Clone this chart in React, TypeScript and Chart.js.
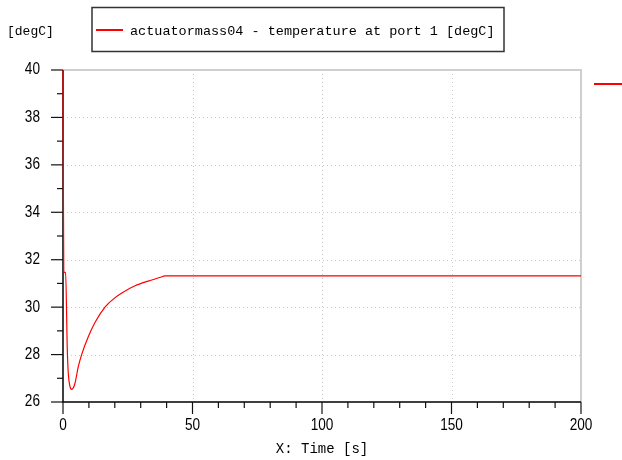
import React, { useEffect, useRef } from "react";
import { Chart, registerables } from "chart.js";

Chart.register(...registerables);

// ---- data ----
const timeSeconds = [0, 0.05, 0.3, 1.0, 1.66, 2.05, 2.6, 3.35, 4.6, 5.9, 7.2, 9.8, 12.4, 16.2, 20.1, 22.7, 27.8, 32.9, 38.0, 39.3, 200];
const temperatureDegC = [40, 37.1, 31.5, 31.45, 28.2, 27.2, 26.7, 26.53, 26.78, 27.49, 28.0, 28.76, 29.36, 30.0, 30.4, 30.6, 30.9, 31.1, 31.27, 31.32, 31.32];
const seriesLabel = "actuatormass04 - temperature at port 1 [degC]";
const yUnitLabel = "[degC]";
const xAxisTitle = "X: Time [s]";
const xRange = [0, 200];
const yRange = [26, 40];
const xMajorStep = 50;
const xMinorStep = 10;
const yMajorStep = 2;
const yMinorStep = 1;

const MONO = "'Liberation Mono', 'DejaVu Sans Mono', monospace";
const LABEL_FONT = "16px 'Liberation Sans', Arial, sans-serif";
const LABEL_SQUEEZE = 0.85;

const framePlugin = {
  id: "frame",
  beforeDatasetsDraw(chart: any) {
    const { ctx, chartArea: a, scales } = chart;
    const xs = scales.x;
    const ys = scales.y;
    ctx.save();
    // dotted grid
    ctx.strokeStyle = "#c8c8c8";
    ctx.lineWidth = 1;
    ctx.setLineDash([1, 3]);
    for (let v = yRange[0] + yMajorStep; v < yRange[1]; v += yMajorStep) {
      const y = Math.round(ys.getPixelForValue(v)) + 0.5;
      ctx.beginPath();
      ctx.moveTo(a.left, y);
      ctx.lineTo(a.right, y);
      ctx.stroke();
    }
    for (let v = xRange[0] + xMajorStep; v < xRange[1]; v += xMajorStep) {
      const x = Math.round(xs.getPixelForValue(v)) + 0.5;
      ctx.beginPath();
      ctx.moveTo(x, a.top);
      ctx.lineTo(x, a.bottom);
      ctx.stroke();
    }
    ctx.setLineDash([]);
    // top & right border
    ctx.strokeStyle = "#cfcfcf";
    ctx.lineWidth = 2;
    ctx.beginPath();
    ctx.moveTo(a.left, a.top);
    ctx.lineTo(a.right, a.top);
    ctx.lineTo(a.right, a.bottom);
    ctx.stroke();
    // axes
    ctx.strokeStyle = "#000";
    ctx.lineWidth = 1.5;
    ctx.beginPath();
    ctx.moveTo(a.left, a.top);
    ctx.lineTo(a.left, a.bottom);
    ctx.lineTo(a.right, a.bottom);
    ctx.stroke();
    // ticks
    ctx.lineWidth = 1.2;
    ctx.strokeStyle = "#111";
    for (let v = yRange[0]; v <= yRange[1] + 1e-9; v += yMinorStep) {
      const major = Math.abs((v - yRange[0]) % yMajorStep) < 1e-9;
      const y = ys.getPixelForValue(v);
      ctx.beginPath();
      ctx.moveTo(a.left - (major ? 12 : 6), y);
      ctx.lineTo(a.left, y);
      ctx.stroke();
    }
    for (let v = xRange[0]; v <= xRange[1] + 1e-9; v += xMinorStep) {
      const major = Math.abs((v - xRange[0]) % xMajorStep) < 1e-9;
      const x = xs.getPixelForValue(v);
      ctx.beginPath();
      ctx.moveTo(x, a.bottom);
      ctx.lineTo(x, a.bottom + (major ? 12 : 6));
      ctx.stroke();
    }
    // tick labels (condensed), from the scales' own ticks
    ctx.fillStyle = "#000";
    ctx.font = LABEL_FONT;
    ctx.textBaseline = "middle";
    ys.ticks.forEach((t: any) => {
      const y = ys.getPixelForValue(t.value);
      ctx.save();
      ctx.translate(40, y);
      ctx.scale(LABEL_SQUEEZE, 1);
      ctx.textAlign = "right";
      ctx.fillText(String(t.label), 0, 0);
      ctx.restore();
    });
    xs.ticks.forEach((t: any) => {
      const x = xs.getPixelForValue(t.value);
      ctx.save();
      ctx.translate(x, a.bottom + 24);
      ctx.scale(LABEL_SQUEEZE, 1);
      ctx.textAlign = "center";
      ctx.fillText(String(t.label), 0, 0);
      ctx.restore();
    });
    ctx.restore();
  },
  afterDraw(chart: any) {
    const { ctx, chartArea: a } = chart;
    const color = chart.data.datasets[0].borderColor;
    ctx.save();
    // unit label
    ctx.fillStyle = "#000";
    ctx.textBaseline = "middle";
    ctx.textAlign = "left";
    ctx.font = `13px ${MONO}`;
    ctx.fillText(yUnitLabel, 7, 32);
    // legend box
    ctx.strokeStyle = "#333";
    ctx.lineWidth = 1.5;
    ctx.strokeRect(92, 7.5, 412, 44);
    ctx.strokeStyle = color;
    ctx.lineWidth = 2;
    ctx.beginPath();
    ctx.moveTo(96, 30);
    ctx.lineTo(123, 30);
    ctx.stroke();
    ctx.font = `13.5px ${MONO}`;
    ctx.fillText(chart.data.datasets[0].label, 130, 31);
    // right-side fragment
    ctx.beginPath();
    ctx.moveTo(a.right + 13, a.top + 14);
    ctx.lineTo(a.right + 41, a.top + 14);
    ctx.stroke();
    // x axis title
    ctx.textAlign = "center";
    ctx.font = `14px ${MONO}`;
    ctx.fillText(xAxisTitle, (a.left + a.right) / 2, 449);
    ctx.restore();
  },
};

export default function App() {
  const ref = useRef<HTMLCanvasElement | null>(null);
  useEffect(() => {
    document.body.style.margin = "0";
    const canvas = ref.current;
    if (!canvas) return;
    const points = timeSeconds.map((t, i) => ({ x: t, y: temperatureDegC[i] }));
    const chart = new Chart(canvas, {
      type: "line",
      data: {
        datasets: [
          {
            label: seriesLabel,
            data: points,
            borderColor: "#ff0000",
            borderWidth: 1.2,
            pointRadius: 0,
            cubicInterpolationMode: "monotone",
            clip: 2,
            fill: false,
          },
        ],
      },
      options: {
        animation: false,
        responsive: false,
        maintainAspectRatio: false,
        layout: { padding: { top: 70, right: 41, left: 0, bottom: 0 } },
        plugins: { legend: { display: false }, tooltip: { enabled: false }, title: { display: false } },
        scales: {
          x: {
            type: "linear",
            min: xRange[0],
            max: xRange[1],
            grid: { display: false, drawTicks: false },
            border: { display: false },
            ticks: { stepSize: xMajorStep, display: false },
            afterFit(scale: any) {
              scale.height = 58;
            },
          },
          y: {
            type: "linear",
            min: yRange[0],
            max: yRange[1],
            grid: { display: false, drawTicks: false },
            border: { display: false },
            ticks: { stepSize: yMajorStep, display: false },
            afterFit(scale: any) {
              scale.width = 63;
            },
          },
        },
      },
      plugins: [framePlugin],
    });
    return () => chart.destroy();
  }, []);
  return (
    <div style={{ width: 622, height: 460, background: "#fff" }}>
      <canvas ref={ref} width={622} height={460} style={{ display: "block" }} />
    </div>
  );
}
